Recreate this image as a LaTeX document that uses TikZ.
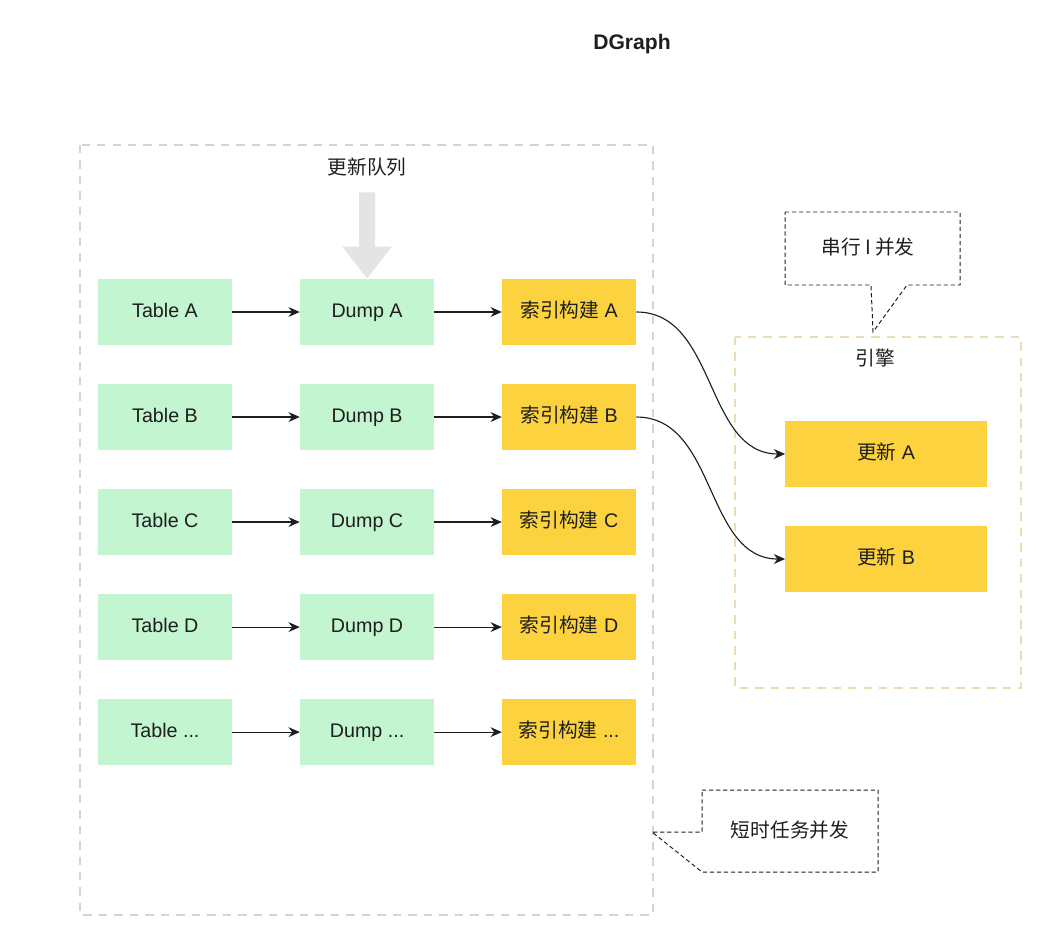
\documentclass[tikz,border=0pt]{standalone}
\usepackage{fontspec}
\setmainfont{Liberation Sans}
\newfontfamily\cjk{Noto Sans CJK SC}
\usetikzlibrary{arrows.meta}
\definecolor{mint}{HTML}{C3F5D0}
\definecolor{gold}{HTML}{FCD33F}
\definecolor{boxgray}{HTML}{D4D4D4}
\definecolor{engineline}{HTML}{EBDBBB}
\definecolor{queuegray}{HTML}{E4E4E4}
\definecolor{ink}{HTML}{1E1E1E}
\tikzstyle{tablebox} = [rectangle, minimum width=3.35cm, minimum height=1.65cm, text height=11pt, text depth=3pt, text centered, fill=mint, text=ink, font=\fontsize{14}{17}\selectfont]
\tikzstyle{buildbox} = [tablebox, fill=gold]
\tikzstyle{updatebox} = [buildbox, minimum width=5.03cm, minimum height=1.63cm]
\tikzstyle{plaintext} = [text=ink, font=\fontsize{14}{17}\selectfont]
\tikzstyle{arrow} = [line width=0.8pt, ->, >={Stealth[length=8pt,width=7pt]}, draw=ink]
\tikzstyle{groupbox} = [line width=1.4pt, dash pattern=on 6pt off 5pt]
\tikzstyle{callout} = [line width=0.7pt, dash pattern=on 3pt off 2pt, draw=ink]

\begin{document}
\begin{tikzpicture}[x=0.025cm, y=-0.025cm, node distance=2.625cm]
    \useasboundingbox (0,0) rectangle (1050,945);

    \node (title) at (632,44) [text=ink, font=\bfseries\fontsize{15}{18}\selectfont] {DGraph};

    % dashed groups
    \draw [groupbox, draw=boxgray] (80,145) rectangle (653,915);
    \draw [groupbox, draw=engineline] (735,337) rectangle (1021,688);

    \node (queue) at (367,167) [plaintext] {\cjk 更新队列};
    \node (engine) at (875,358) [plaintext] {\cjk 引擎};

    % tables
    \node (tA) at (165,312) [tablebox] {Table A};
    \node (tB) [tablebox, below of=tA] {Table B};
    \node (tC) [tablebox, below of=tB] {Table C};
    \node (tD) [tablebox, below of=tC] {Table D};
    \node (tE) [tablebox, below of=tD] {Table ...};

    % dumps
    \node (dA) [tablebox, node distance=5.05cm, right of=tA] {Dump A};
    \node (dB) [tablebox, node distance=5.05cm, right of=tB] {Dump B};
    \node (dC) [tablebox, node distance=5.05cm, right of=tC] {Dump C};
    \node (dD) [tablebox, node distance=5.05cm, right of=tD] {Dump D};
    \node (dE) [tablebox, node distance=5.05cm, right of=tE] {Dump ...};

    % index builds
    \node (bA) [buildbox, node distance=5.05cm, right of=dA] {{\cjk 索引构建} A};
    \node (bB) [buildbox, node distance=5.05cm, right of=dB] {{\cjk 索引构建} B};
    \node (bC) [buildbox, node distance=5.05cm, right of=dC] {{\cjk 索引构建} C};
    \node (bD) [buildbox, node distance=5.05cm, right of=dD] {{\cjk 索引构建} D};
    \node (bE) [buildbox, node distance=5.05cm, right of=dE] {{\cjk 索引构建} ...};

    % engine updates
    \node (uA) at (886,454) [updatebox] {{\cjk 更新} A};
    \node (uB) [updatebox, below of=uA] {{\cjk 更新} B};

    \draw [line width=0.4cm, draw=queuegray, -{Triangle[length=0.8cm,width=1.18cm]}, shorten <=0.28cm] (queue.south) -- (dA.north);

    \foreach \r in {A,B,C,D,E} {
        \draw [arrow] (t\r) -- (d\r);
        \draw [arrow] (d\r) -- (b\r);
    }
    \draw [arrow] (bA.east) to[out=0, in=180] (uA.west);
    \draw [arrow] (bB.east) to[out=0, in=180] (uB.west);

    % callouts
    \draw [callout] (785,212) -- (960,212) -- (960,285) -- (907,285) -- (873,332) -- (871,285) -- (785,285) -- cycle;
    \node (serial) at (868,247) [plaintext] {\cjk 串行 I 并发};
    \draw [callout] (702,790) -- (878,790) -- (878,872) -- (702,872) -- (652,832) -- (702,832) -- cycle;
    \node (short) at (790,830) [plaintext] {\cjk 短时任务并发};
\end{tikzpicture}
\end{document}
